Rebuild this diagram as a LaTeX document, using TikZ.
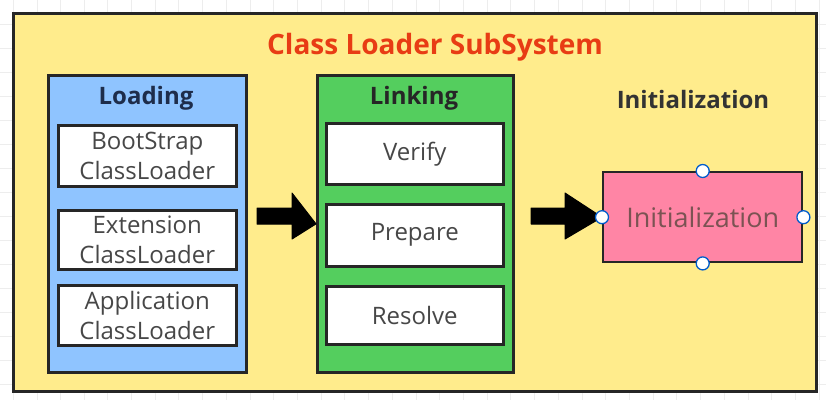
\documentclass[tikz,border=0pt]{standalone}
\usepackage{fontspec}
\setmainfont{Open Sans}
\begin{document}
\begin{tikzpicture}[x=1pt,y=-1pt,
  gridline/.style={draw=black!7,line width=0.8pt},
  panel/.style={draw=black!85,line width=2.8pt,line join=miter},
  whitebox/.style={draw=black!85,line width=2.6pt,fill=white,align=center,text=black!72,font=\fontsize{24}{30}\selectfont,inner sep=0pt},
  heading/.style={font=\bfseries\fontsize{24}{28}\selectfont,inner sep=0pt},
  blockarrow/.style={fill=black,draw=black,line width=1pt,line join=round},
  handle/.style={circle,draw=blue!55!cyan!80!black,fill=white,line width=1.3pt,minimum size=13pt,inner sep=0pt}]
\definecolor{bgyellow}{RGB}{255,236,140}
\definecolor{loadblue}{RGB}{143,196,255}
\definecolor{linkgreen}{RGB}{84,206,94}
\definecolor{initpink}{RGB}{255,133,165}
\definecolor{titlered}{RGB}{232,60,20}
\definecolor{headnavy}{RGB}{30,45,75}
\useasboundingbox (0,0) rectangle (826,400);
\fill[white] (0,0) rectangle (826,400);
% faint grid
\foreach \gx in {13,37,60,84,107,131,155,178,202,226,250,273,297,321,344,368,392,416,439,463,487,510,534,558,582,605,629,653,676,700,724,748,771,795,819}
  \draw[gridline] (\gx,0) -- (\gx,400);
\foreach \gy in {24,48,72,96,120,144,168,192,216,240,264,288,312,336,360,384}
  \draw[gridline] (0,\gy) -- (826,\gy);
% outer
\node[panel,line width=3pt,fill=bgyellow,minimum width=803pt,minimum height=378pt,anchor=north west] (outer) at (12,12) {};
\node[font=\bfseries\fontsize{28}{32}\selectfont,text=titlered,inner sep=0pt] (title) at (435,47) {Class Loader SubSystem};
% loading
\node[panel,fill=loadblue,minimum width=198pt,minimum height=297pt,anchor=north west] (loading) at (47,74) {};
\node[heading,text=headnavy] (loadlbl) at (146,98) {Loading};
\node[whitebox,minimum width=178pt,minimum height=61pt,anchor=north west] (boot) at (57,124) {BootStrap\\ClassLoader};
\node[whitebox,minimum width=178pt,minimum height=59pt,anchor=north west] (ext) at (57,209) {Extension\\ClassLoader};
\node[whitebox,minimum width=178pt,minimum height=60pt,anchor=north west] (app) at (57,284) {Application\\ClassLoader};
% linking
\node[panel,fill=linkgreen,minimum width=196pt,minimum height=297pt,anchor=north west] (linking) at (316,74) {};
\node[heading,text=black!85] (linklbl) at (414,98) {Linking};
\node[whitebox,minimum width=177pt,minimum height=61pt,anchor=north west] (verify) at (325,122) {Verify};
\node[whitebox,minimum width=177pt,minimum height=62pt,anchor=north west] (prepare) at (325,203) {Prepare};
\node[whitebox,minimum width=177pt,minimum height=58pt,anchor=north west] (resolve) at (325,285) {Resolve};
% initialization
\node[heading,text=black!80] (initlbl) at (693,99) {Initialization};
\node[panel,line width=2.4pt,fill=initpink,minimum width=199pt,minimum height=90pt,anchor=north west,text=black!55!red!35!gray,font=\fontsize{27}{32}\selectfont] (init) at (602,171) {Initialization};
% arrows
\draw[blockarrow] (257,208) -- (292,208) -- (292,193) -- (linking.west) -- (292,239) -- (292,224) -- (257,224) -- cycle;
\draw[blockarrow] (531,208) -- (565,208) -- (565,193) -- (init.west) -- (565,239) -- (565,224) -- (531,224) -- cycle;
% handles
\node[handle] (h1) at (init.north) {};
\node[handle] (h2) at (init.south) {};
\node[handle] (h3) at (init.west) {};
\node[handle] (h4) at (init.east) {};
\end{tikzpicture}
\end{document}
